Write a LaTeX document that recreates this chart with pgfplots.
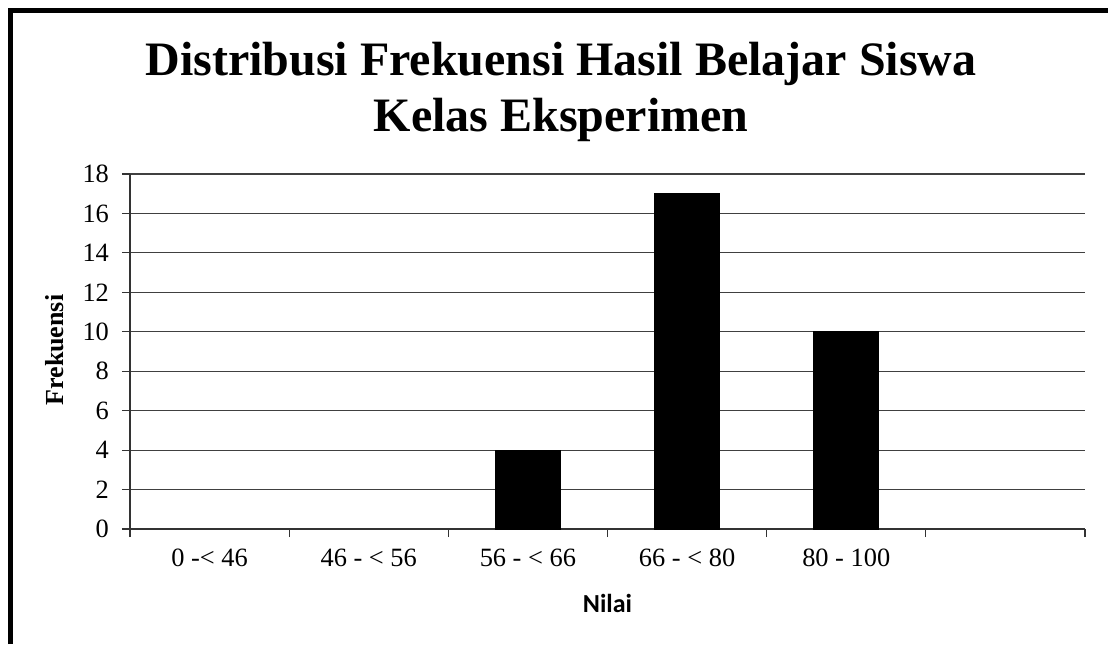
\documentclass[border=0pt]{standalone}
\usepackage{pgfplots}
\pgfplotsset{compat=1.18}
\usepackage{fontspec}
\setmainfont{Liberation Serif}
\newfontfamily\calibri{Carlito}
\begin{document}
\begin{tikzpicture}[x=0.5pt,y=0.5pt]
\path[use as bounding box] (0,0) rectangle (1108,644);
\draw[line width=2.5pt] (10.5,0) -- (10.5,633.5) -- (1108,633.5);
\node[anchor=base,font=\bfseries\fontsize{24}{28}\selectfont,inner sep=0pt] at (561,568) {Distribusi Frekuensi Hasil Belajar Siswa};
\node[anchor=base,font=\bfseries\fontsize{24}{28}\selectfont,inner sep=0pt] at (561,512) {Kelas Eksperimen};
\begin{axis}[
  at={(65pt,57.5pt)}, anchor=south west,
  scale only axis, width=477.5pt, height=177.5pt,
  xmin=-0.5, xmax=5.5, ymin=0, ymax=18,
  axis lines*=left,
  axis line style={black!80, line width=0.6pt},
  xtick={-0.5,0.5,1.5,2.5,3.5,4.5,5.5},
  xticklabels={0 -< 46, 46 - < 56, 56 - < 66, 66 - < 80, 80 - 100, {}},
  x tick label as interval,
  ytick={0,2,...,18},
  tick align=outside,
  major tick length=4pt,
  tick style={black!80, line width=0.6pt},
  ymajorgrids,
  major grid style={black!75, line width=0.6pt},
  /pgf/number format/assume math mode=true,
  tick label style={font=\fontsize{13.2}{15}\selectfont},
  yticklabel style={xshift=-3pt},
  xticklabel style={yshift=-2.5pt},
  xlabel={Nilai},
  ylabel={Frekuensi},
  xlabel style={font=\calibri\bfseries\fontsize{13}{15}\selectfont, at={(axis description cs:0.5,-0.211)}, anchor=center},
  ylabel style={font=\bfseries\fontsize{13}{15}\selectfont, at={(axis description cs:-0.0785,0.504)}, anchor=center, rotate=0},
]
\addplot[ybar, fill=black, draw=black, bar width=32.5pt] coordinates {(2,4) (3,17) (4,10)};
\end{axis}
\end{tikzpicture}
\end{document}
